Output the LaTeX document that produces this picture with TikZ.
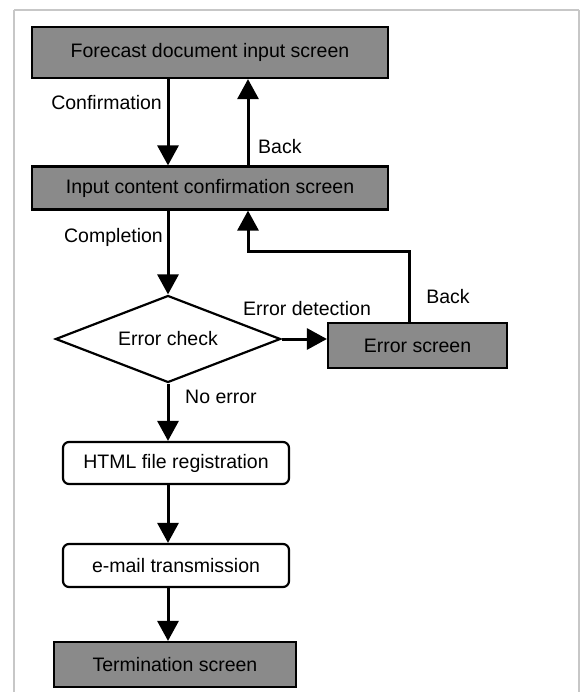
\documentclass[tikz,border=0pt]{standalone}
\usepackage{fontspec}
\setmainfont{Liberation Sans}
\usetikzlibrary{arrows.meta,shapes.geometric}
\begin{document}
\begin{tikzpicture}[x=1pt,y=-1pt,
  every node/.style={font=\fontsize{19.5}{23}\selectfont, inner sep=0pt},
  screenbox/.style={draw=black, line width=2.2pt, fill=black!46, rectangle},
  procbox/.style={draw=black, line width=2.2pt, fill=white, rectangle, rounded corners=6pt},
  decbox/.style={draw=black, line width=2.2pt, fill=white, diamond, shape aspect=2.6},
  flow/.style={line width=3pt, -{Triangle[length=20pt,width=21pt]}},
  lbl/.style={fill=none}]
\useasboundingbox (0,0) rectangle (580,692);
\fill[white] (0,0) rectangle (580,692);
\draw[line width=1.5pt, black!22] (14,10) -- (579,10) (14,10) -- (14,700) (579,10) -- (579,700);

\coordinate (cA) at (168,0);
\coordinate (cB) at (248,0);
\coordinate (cE) at (409,0);
\coordinate (turn) at (0,252);

\node[screenbox, minimum width=356pt, minimum height=51pt] (fin) at (210,52.5) {Forecast document input screen};
\node[screenbox, minimum width=356pt, minimum height=43pt] (icc) at (210,188) {Input content confirmation screen};
\node[decbox, minimum width=225pt, minimum height=87pt] (chk) at (168,339) {Error check};
\node[screenbox, minimum width=179pt, minimum height=45pt] (err) at (417.5,345.5) {Error screen};
\node[procbox, minimum width=226pt, minimum height=42pt] (html) at (176,463) {HTML file registration};
\node[procbox, minimum width=226pt, minimum height=43pt] (mail) at (176,565.5) {e-mail transmission};
\node[screenbox, minimum width=242pt, minimum height=45pt] (term) at (175,664.5) {Termination screen};

\draw[flow] (fin.south -| cA) -- (icc.north -| cA);
\draw[flow] (icc.north -| cB) -- (fin.south -| cB);
\draw[flow] (icc.south -| cA) -- (chk.north);
\draw[flow] (chk.east) -- (err.west |- chk.east);
\draw[flow] (err.north -| cE) -- (turn -| cE) -- (turn -| cB) -- (icc.south -| cB);
\draw[flow] (chk.south) -- (html.north -| cA);
\draw[flow] (html.south -| cA) -- (mail.north -| cA);
\draw[flow] (mail.south -| cA) -- (term.north -| cA);

\node[lbl, anchor=east] (l1) at (162,103) {Confirmation};
\node[lbl, anchor=west] (l2) at (258,147) {Back};
\node[lbl, anchor=east] (l3) at (163,237) {Completion};
\node[lbl] (l4) at (307,309) {Error detection};
\node[lbl] (l5) at (448,297) {Back};
\node[lbl, anchor=west] (l6) at (185,397) {No error};
\end{tikzpicture}
\end{document}
